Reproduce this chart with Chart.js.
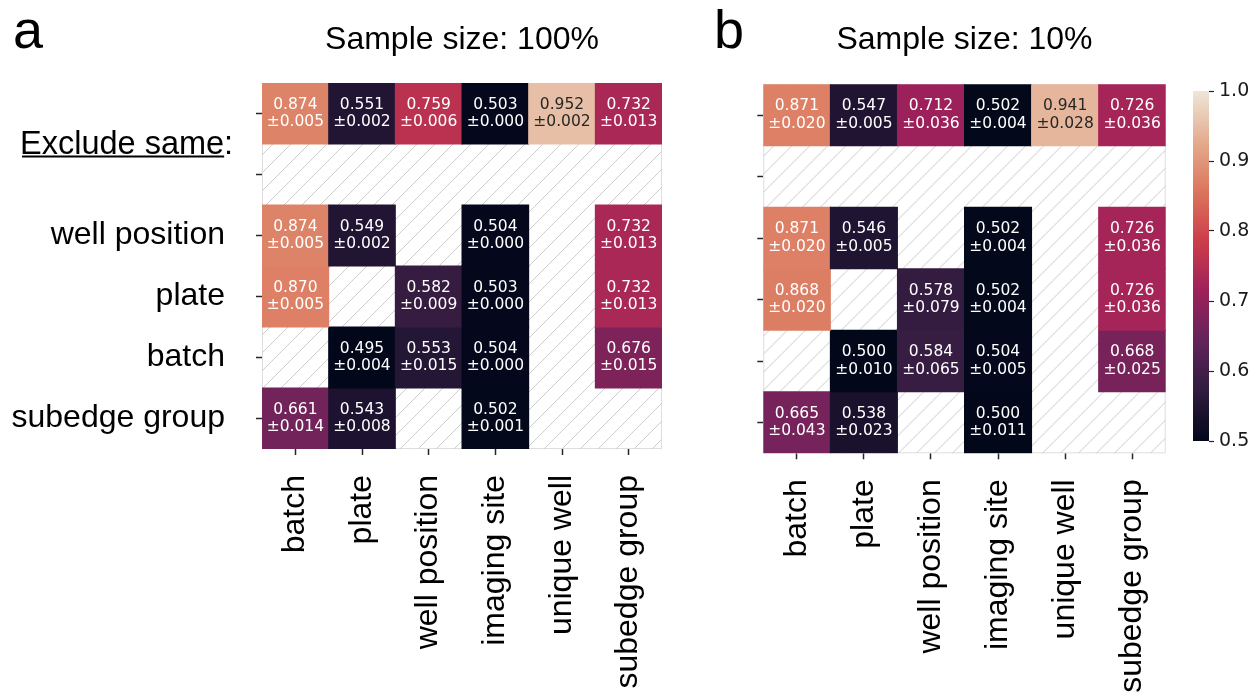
<!DOCTYPE html>
<html>
<head>
<meta charset="utf-8">
<script src="https://cdn.jsdelivr.net/npm/chart.js@4.4.1/dist/chart.umd.min.js"></script>
<style>
  html, body { margin: 0; padding: 0; background: #ffffff; }
  body { width: 1255px; height: 692px; position: relative; overflow: hidden; }
  canvas { position: absolute; }
</style>
</head>
<body>
<canvas id="heatA" width="700" height="692" style="left:0px;top:0px;width:700px;height:692px"></canvas>
<canvas id="heatB" width="500" height="692" style="left:700px;top:0px;width:500px;height:692px"></canvas>
<canvas id="colorbar" width="85" height="692" style="left:1170px;top:0px;width:85px;height:692px"></canvas>
<script>
// ---- data ---------------------------------------------------------------
const columnLabels = ['batch', 'plate', 'well position', 'imaging site', 'unique well', 'subedge group'];
const rowLabels = ['', '', 'well position', 'plate', 'batch', 'subedge group'];

// mean score per (excluded group row, grouping column); null = not evaluated
const meanA = [
  [0.874, 0.551, 0.759, 0.503, 0.952, 0.732],
  [null, null, null, null, null, null],
  [0.874, 0.549, null, 0.504, null, 0.732],
  [0.870, null, 0.582, 0.503, null, 0.732],
  [null, 0.495, 0.553, 0.504, null, 0.676],
  [0.661, 0.543, null, 0.502, null, null]
];
const stdA = [
  [0.005, 0.002, 0.006, 0.000, 0.002, 0.013],
  [null, null, null, null, null, null],
  [0.005, 0.002, null, 0.000, null, 0.013],
  [0.005, null, 0.009, 0.000, null, 0.013],
  [null, 0.004, 0.015, 0.000, null, 0.015],
  [0.014, 0.008, null, 0.001, null, null]
];
const meanB = [
  [0.871, 0.547, 0.712, 0.502, 0.941, 0.726],
  [null, null, null, null, null, null],
  [0.871, 0.546, null, 0.502, null, 0.726],
  [0.868, null, 0.578, 0.502, null, 0.726],
  [null, 0.500, 0.584, 0.504, null, 0.668],
  [0.665, 0.538, null, 0.500, null, null]
];
const stdB = [
  [0.020, 0.005, 0.036, 0.004, 0.028, 0.036],
  [null, null, null, null, null, null],
  [0.020, 0.005, null, 0.004, null, 0.036],
  [0.020, null, 0.079, 0.004, null, 0.036],
  [null, 0.010, 0.065, 0.005, null, 0.025],
  [0.043, 0.023, null, 0.011, null, null]
];
const colorRange = [0.5, 1.0];
const colorbarTicks = [0.5, 0.6, 0.7, 0.8, 0.9, 1.0];

// ---- colour map (rocket-like, dark purple -> red -> cream) ----------------
const rocketStops = ['#03071a', '#2f1b3e', '#62245a', '#9e215a', '#cd3c4b', '#db765c', '#e4ac8f', '#eee6d8'];
function hexToRgb(h) {
  const n = parseInt(h.slice(1), 16);
  return [(n >> 16) & 255, (n >> 8) & 255, n & 255];
}
const rocketRgb = rocketStops.map(hexToRgb);
function rocket(t) {
  t = Math.max(0, Math.min(1, t));
  const n = rocketRgb.length - 1;
  const p = t * n;
  const i = Math.min(Math.floor(p), n - 1);
  const f = p - i;
  const a = rocketRgb[i], b = rocketRgb[i + 1];
  return [0, 1, 2].map(k => Math.round(a[k] + (b[k] - a[k]) * f));
}
function valueRgb(v) {
  return rocket((v - colorRange[0]) / (colorRange[1] - colorRange[0]));
}
function rgbStr(c) { return 'rgb(' + c[0] + ',' + c[1] + ',' + c[2] + ')'; }
function textColorFor(c) {
  const lin = c.map(x => { x /= 255; return x <= 0.03928 ? x / 12.92 : Math.pow((x + 0.055) / 1.055, 2.4); });
  const lum = 0.2126 * lin[0] + 0.7152 * lin[1] + 0.0722 * lin[2];
  return lum > 0.408 ? '#262626' : '#ffffff';
}

Chart.defaults.color = '#000000';
Chart.defaults.animation = false;

// hatched white background behind the cells
const hatchPlugin = {
  id: 'hatchBackground',
  beforeDatasetsDraw(chart) {
    const { ctx, chartArea: a } = chart;
    ctx.save();
    ctx.fillStyle = '#ffffff';
    ctx.fillRect(a.left, a.top, a.width, a.height);
    ctx.strokeStyle = '#dedede';
    ctx.lineWidth = 1;
    ctx.strokeRect(a.left + 0.5, a.top + 0.5, a.width - 1, a.height - 1);
    ctx.beginPath();
    ctx.rect(a.left, a.top, a.width, a.height);
    ctx.clip();
    ctx.strokeStyle = '#cdcdcd';
    ctx.lineWidth = 1;
    ctx.beginPath();
    const h = a.height, s = 18;
    for (let x = a.left - h; x < a.right + s; x += s) {
      ctx.moveTo(x, a.bottom);
      ctx.lineTo(x + h, a.top);
    }
    ctx.stroke();
    ctx.restore();
  }
};

function makeHeatmap(id, means, stds, opts) {
  const datasets = means.map((row, r) => ({
    label: rowLabels[r] || ('row ' + r),
    data: row.map(v => (v === null ? null : [r, r + 1])),
    backgroundColor: row.map(v => (v === null ? 'rgba(0,0,0,0)' : rgbStr(valueRgb(v)))),
    borderWidth: 0,
    grouped: false,
    barPercentage: 1,
    categoryPercentage: 1,
    inflateAmount: 0.5
  }));

  const annotate = {
    id: 'cellText',
    afterDatasetsDraw(chart) {
      const ctx = chart.ctx;
      ctx.save();
      ctx.font = '15.5px "DejaVu Sans"';
      ctx.textAlign = 'center';
      ctx.textBaseline = 'middle';
      means.forEach((row, r) => {
        const meta = chart.getDatasetMeta(r);
        row.forEach((v, c) => {
          if (v === null) return;
          const bar = meta.data[c];
          const cy = (bar.y + bar.base) / 2;
          ctx.fillStyle = textColorFor(valueRgb(v));
          ctx.fillText(v.toFixed(3), bar.x, cy - 8.6);
          ctx.fillText('\u00b1' + stds[r][c].toFixed(3), bar.x, cy + 8.6);
        });
      });
      ctx.restore();
    },
    afterDraw(chart) {
      const ctx = chart.ctx;
      ctx.save();
      ctx.fillStyle = '#000000';
      ctx.textBaseline = 'alphabetic';
      ctx.textAlign = 'left';
      ctx.font = '54px "Liberation Sans"';
      ctx.fillText(opts.letter, opts.letterX, 48);
      if (opts.rowHeader) {
        ctx.font = '32.5px "Liberation Sans"';
        ctx.fillText(opts.rowHeader + ':', 20, 154);
        const w = ctx.measureText(opts.rowHeader).width;
        ctx.fillRect(22, 155.5, w - 2, 2);
      }
      ctx.restore();
    }
  };

  return new Chart(document.getElementById(id), {
    type: 'bar',
    data: { labels: columnLabels, datasets },
    plugins: [hatchPlugin, annotate],
    options: {
      responsive: false,
      animation: false,
      layout: { padding: { left: 0, right: opts.padRight, top: 0, bottom: 0 } },
      plugins: {
        legend: { display: false },
        tooltip: { enabled: false },
        title: {
          display: true,
          text: opts.title,
          fullSize: false,
          color: '#000000',
          font: { family: 'Liberation Sans', size: 32, weight: 'normal', lineHeight: 1.2 },
          padding: { top: 21, bottom: opts.chartTop - 21 - 38.4 }
        }
      },
      scales: {
        x: {
          type: 'category',
          offset: true,
          border: { display: false },
          grid: { display: true, drawOnChartArea: false, offset: false, tickLength: 6, tickWidth: 1.5, tickColor: '#262626' },
          ticks: {
            autoSkip: false, minRotation: 90, maxRotation: 90, padding: 20,
            color: '#000000',
            font: { family: 'Liberation Sans', size: 32 }
          },
          afterFit(scale) { scale.height = opts.axisHeight; }
        },
        y: {
          type: 'linear',
          min: 0,
          max: rowLabels.length,
          reverse: true,
          border: { display: false },
          grid: { display: true, drawOnChartArea: false, tickLength: 6, tickWidth: 1.5, tickColor: '#262626' },
          ticks: {
            padding: 31,
            color: '#000000',
            font: { family: 'Liberation Sans', size: 32 },
            callback: (v) => (opts.showRowLabels ? rowLabels[Math.floor(v)] : '')
          },
          afterBuildTicks(scale) { scale.ticks = rowLabels.map((_, i) => ({ value: i + 0.5 })); },
          afterFit(scale) { scale.width = opts.axisWidth; }
        }
      }
    }
  });
}

makeHeatmap('heatA', meanA, stdA, {
  title: 'Sample size: 100%', letter: 'a', letterX: 13, rowHeader: 'Exclude same',
  showRowLabels: true, axisWidth: 262, axisHeight: 243, padRight: 38, chartTop: 83
});
makeHeatmap('heatB', meanB, stdB, {
  title: 'Sample size: 10%', letter: 'b', letterX: 14, rowHeader: null,
  showRowLabels: false, axisWidth: 63.3, axisHeight: 238.7, padRight: 34.3, chartTop: 84.3
});

// ---- colour bar ------------------------------------------------------------
new Chart(document.getElementById('colorbar'), {
  type: 'bar',
  data: {
    labels: [''],
    datasets: [{
      data: [colorRange],
      borderWidth: 0,
      barPercentage: 1,
      categoryPercentage: 1,
      backgroundColor(ctx) {
        const a = ctx.chart.chartArea;
        if (!a) return 'rgba(0,0,0,0)';
        const g = ctx.chart.ctx.createLinearGradient(0, a.bottom, 0, a.top);
        const n = 50;
        for (let i = 0; i <= n; i++) g.addColorStop(i / n, rgbStr(rocket(i / n)));
        return g;
      }
    }]
  },
  options: {
    responsive: false,
    animation: false,
    layout: { padding: { left: 23, right: 0, top: 91, bottom: 251 } },
    plugins: { legend: { display: false }, tooltip: { enabled: false } },
    scales: {
      x: { display: false, offset: true },
      y: {
        position: 'right',
        min: colorRange[0],
        max: colorRange[1],
        border: { display: false },
        grid: { drawOnChartArea: false, tickLength: 5, tickWidth: 1.2, tickColor: '#262626' },
        ticks: {
          padding: 5,
          color: '#1a1a1a',
          font: { family: 'DejaVu Sans', size: 19 },
          callback: (v) => v.toFixed(1)
        },
        afterBuildTicks(scale) { scale.ticks = colorbarTicks.map(v => ({ value: v })); },
        afterFit(scale) { scale.width = 46; }
      }
    }
  }
});
</script>
</body>
</html>
